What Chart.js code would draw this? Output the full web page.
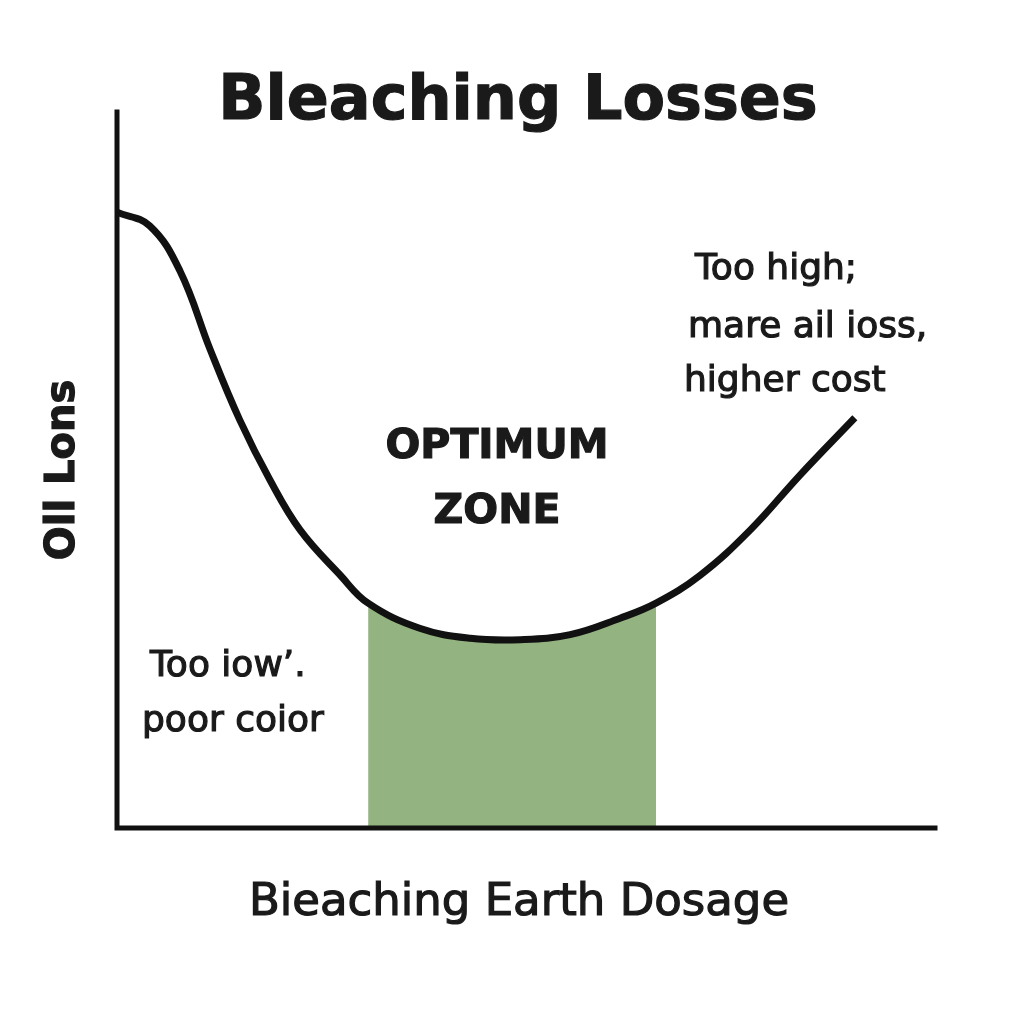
<!DOCTYPE html>
<html><head><meta charset="utf-8">
<script src="https://cdn.jsdelivr.net/npm/chart.js@4"></script>
<style>html,body{margin:0;background:#fff}#w{width:1024px;height:1024px}</style>
</head><body><div id="w"><canvas id="c"></canvas></div>
<script>
const dosage = [0,4,7.7,11.4,15,18.7,22.4,27.3,30.7,37,43.2,49.3,55.4,61.5,65.9,71.3,77.4,83.5,90.2];
const losses = [86,84.1,77.8,66.8,57,48.6,41.6,35.3,31.4,27.9,26.5,26.3,27,29.3,31.4,35.3,41.6,49.3,57.3];
const zoneStart = 30.7, zoneEnd = 65.9;
const curve = dosage.map((x,i)=>({x, y:losses[i]}));
const zone = curve.filter(p=>p.x>=zoneStart && p.x<=zoneEnd);

function txt(c,s,x,y){ c.fillText(s,x,y); c.strokeText(s,x,y); }
const deco = {
  id:'deco',
  afterDraw(ch){
    const c=ch.ctx, a=ch.chartArea;
    c.save();
    c.strokeStyle='#111'; c.lineWidth=5; c.lineCap='square';
    c.beginPath(); c.moveTo(a.left,a.top); c.lineTo(a.left,a.bottom); c.lineTo(a.right,a.bottom); c.stroke();
    c.fillStyle='#1a1a1a'; c.strokeStyle='#1a1a1a'; c.lineWidth=1.2; c.textBaseline='middle';
    c.textAlign='center';
    c.font='bold 62px "DejaVu Sans"'; txt(c,'Bleaching Losses',518,103);
    c.font='45px "DejaVu Sans"'; txt(c,'Bieaching Earth Dosage',519,903);
    c.font='bold 41px "DejaVu Sans"'; txt(c,'OPTIMUM',497,447); txt(c,'ZONE',497,512);
    c.save(); c.translate(64,470); c.rotate(-Math.PI/2);
    c.font='bold 40px "DejaVu Sans"'; txt(c,'Oll Lons',0,0); c.restore();
    c.textAlign='left'; c.font='36px "DejaVu Sans"';
    txt(c,'Too high;',695,270); txt(c,'mare ail ioss,',688,328); txt(c,'higher cost',684,382);
    txt(c,'Too iow\u2019.',150,667); txt(c,'poor coior',142,722);
    c.restore();
  }
};

new Chart(document.getElementById('c'),{
  type:'line',
  data:{datasets:[
    {data:curve,borderColor:'#111',borderWidth:7,pointRadius:0,tension:0.4,fill:false,order:1},
    {data:zone,borderWidth:0,borderColor:'rgba(0,0,0,0)',backgroundColor:'#93b380',pointRadius:0,tension:0.4,fill:'origin',order:2}
  ]},
  options:{responsive:true,maintainAspectRatio:false,animation:false,
    layout:{padding:{left:117,right:89,top:112,bottom:196}},
    plugins:{legend:{display:false},tooltip:{enabled:false}},
    scales:{x:{type:'linear',min:0,max:100,display:false},y:{min:0,max:100,display:false}}},
  plugins:[deco]
});
</script></body></html>
